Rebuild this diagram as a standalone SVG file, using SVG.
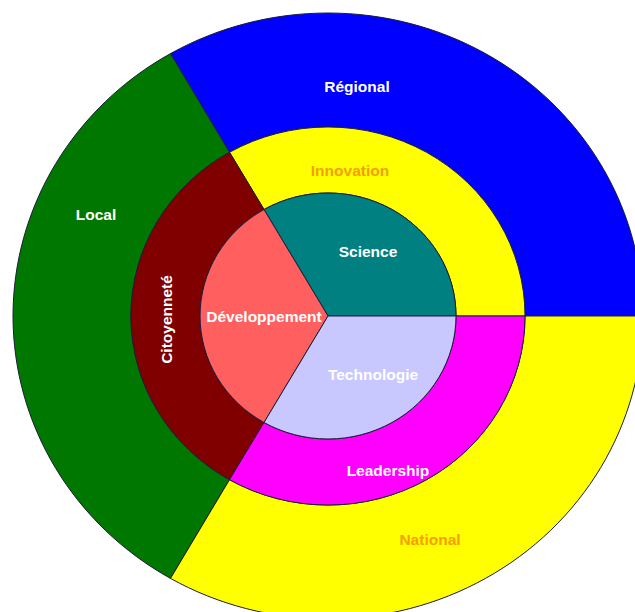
<svg xmlns="http://www.w3.org/2000/svg" width="635" height="612" viewBox="0 0 635 612">
<style>
  .seg { stroke: #1c1c3a; stroke-width: 1; stroke-linejoin: round; }
  .lbl { font-family: "Liberation Sans", Arial, sans-serif; font-weight: bold; font-size: 15.5px; text-anchor: middle; fill: #ffffff; }
  .org { fill: #f5a000; }
</style>
<rect width="635" height="612" fill="#ffffff"/>
<g id="outer-ring">
  <g id="regional">
    <path class="seg" fill="#0000ff" d="M 643 316 A 315 303 0 0 0 170.5 53.6 L 229.5 152.3 A 197 189 0 0 1 525 316 Z"/>
    <text class="lbl" x="357" y="92">Régional</text>
  </g>
  <g id="local">
    <path class="seg" fill="#007800" d="M 170.5 53.6 A 315 303 0 0 0 170.5 578.4 L 229.5 479.7 A 197 189 0 0 1 229.5 152.3 Z"/>
    <text class="lbl" x="96" y="220">Local</text>
  </g>
  <g id="national">
    <path class="seg" fill="#ffff00" d="M 170.5 578.4 A 315 303 0 0 0 643 316 L 525 316 A 197 189 0 0 1 229.5 479.7 Z"/>
    <text class="lbl org" x="430" y="545">National</text>
  </g>
</g>
<g id="middle-ring">
  <g id="innovation">
    <path class="seg" fill="#ffff00" d="M 525 316 A 197 189 0 0 0 229.5 152.3 L 264 209.5 A 128 123 0 0 1 456 316 Z"/>
    <text class="lbl org" x="350" y="176">Innovation</text>
  </g>
  <g id="citoyennete">
    <path class="seg" fill="#800000" d="M 229.5 152.3 A 197 189 0 0 0 229.5 479.7 L 264 422.5 A 128 123 0 0 1 264 209.5 Z"/>
    <text class="lbl" x="0" y="0" transform="translate(172 319.5) rotate(-90)">Citoyenneté</text>
  </g>
  <g id="leadership">
    <path class="seg" fill="#ff00ff" d="M 229.5 479.7 A 197 189 0 0 0 525 316 L 456 316 A 128 123 0 0 1 264 422.5 Z"/>
    <text class="lbl" x="388" y="476">Leadership</text>
  </g>
</g>
<g id="inner-ring">
  <g id="science">
    <path class="seg" fill="#008080" d="M 328 316 L 456 316 A 128 123 0 0 0 264 209.5 Z"/>
    <text class="lbl" x="368" y="257">Science</text>
  </g>
  <g id="developpement">
    <path class="seg" fill="#ff5f5f" d="M 328 316 L 264 209.5 A 128 123 0 0 0 264 422.5 Z"/>
    <text class="lbl" x="264" y="322">Développement</text>
  </g>
  <g id="technologie">
    <path class="seg" fill="#c8c8ff" d="M 328 316 L 264 422.5 A 128 123 0 0 0 456 316 Z"/>
    <text class="lbl" x="373" y="380">Technologie</text>
  </g>
</g>
<g id="connectors"/>
</svg>
